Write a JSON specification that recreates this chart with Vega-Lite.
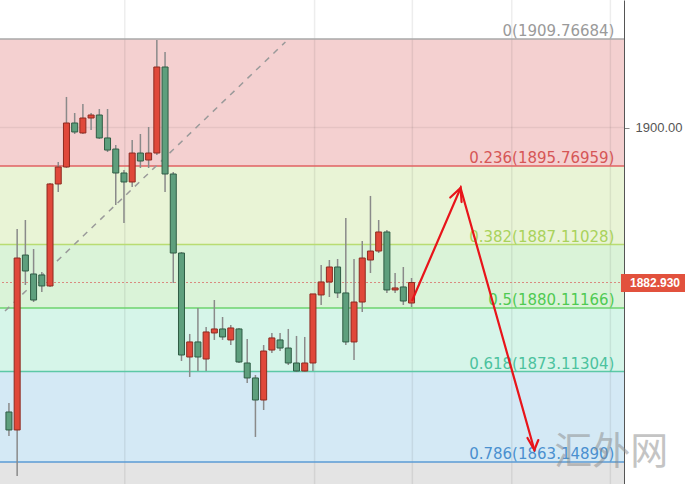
{
  "$schema": "https://vega.github.io/schema/vega-lite/v6.json",
  "width": 624,
  "height": 484,
  "autosize": {"type": "none"},
  "padding": {"left": 0, "top": 0, "right": 61, "bottom": 0},
  "background": "#ffffff",
  "config": {"view": {"stroke": null}},
  "datasets": {
    "zones": [
      {"zone": "0-0.236", "lo": 1895.76959, "hi": 1909.76684},
      {"zone": "0.236-0.382", "lo": 1887.11028, "hi": 1895.76959},
      {"zone": "0.382-0.5", "lo": 1880.11166, "hi": 1887.11028},
      {"zone": "0.5-0.618", "lo": 1873.11304, "hi": 1880.11166},
      {"zone": "0.618-0.786", "lo": 1863.1489, "hi": 1873.11304},
      {"zone": "below", "lo": 1855, "hi": 1863.1489}
    ],
    "levels": [
      {"ratio": "0", "price": 1909.76684, "label": "0(1909.76684)"},
      {"ratio": "0.236", "price": 1895.76959, "label": "0.236(1895.76959)"},
      {"ratio": "0.382", "price": 1887.11028, "label": "0.382(1887.11028)"},
      {"ratio": "0.5", "price": 1880.11166, "label": "0.5(1880.11166)"},
      {"ratio": "0.618", "price": 1873.11304, "label": "0.618(1873.11304)"},
      {"ratio": "0.786", "price": 1863.1489, "label": "0.786(1863.14890)"}
    ],
    "sessions": [{"i": 14.1}, {"i": 37.2}, {"i": 49.1}, {"i": 61.2}, {"i": 73.2}],
    "trend": [
      {"i": -0.48, "price": 1879.79},
      {"i": 33.65, "price": 1909.44}
    ],
    "forecast": [
      {"path": "main", "ord": 0, "i": 49.1, "price": 1881.0},
      {"path": "main", "ord": 1, "i": 54.97, "price": 1893.35},
      {"path": "main", "ord": 2, "i": 63.95, "price": 1864.47},
      {"path": "headUp", "ord": 0, "i": 53.71, "price": 1892.3},
      {"path": "headUp", "ord": 1, "i": 54.97, "price": 1893.35},
      {"path": "headUp", "ord": 2, "i": 55.09, "price": 1891.8},
      {"path": "headDown", "ord": 0, "i": 63.11, "price": 1865.8},
      {"path": "headDown", "ord": 1, "i": 63.95, "price": 1864.47},
      {"path": "headDown", "ord": 2, "i": 64.43, "price": 1865.57}
    ],
    "candles": [
      {"i": 0, "open": 1868.66, "high": 1869.65, "low": 1866.02, "close": 1866.68},
      {"i": 1, "open": 1866.68, "high": 1888.83, "low": 1861.61, "close": 1885.63},
      {"i": 2, "open": 1885.96, "high": 1889.82, "low": 1882.66, "close": 1884.2},
      {"i": 3, "open": 1883.87, "high": 1886.62, "low": 1880.78, "close": 1881.0},
      {"i": 4, "open": 1883.76, "high": 1884.09, "low": 1881.89, "close": 1882.55},
      {"i": 5, "open": 1882.55, "high": 1893.9, "low": 1882.44, "close": 1893.79},
      {"i": 6, "open": 1893.79, "high": 1896.21, "low": 1892.91, "close": 1895.66},
      {"i": 7, "open": 1895.66, "high": 1903.38, "low": 1895.55, "close": 1900.51},
      {"i": 8, "open": 1900.51, "high": 1901.61, "low": 1899.3, "close": 1899.52},
      {"i": 9, "open": 1899.41, "high": 1902.6, "low": 1899.3, "close": 1901.06},
      {"i": 10, "open": 1901.06, "high": 1901.61, "low": 1899.74, "close": 1901.39},
      {"i": 11, "open": 1901.39, "high": 1902.05, "low": 1898.75, "close": 1898.86},
      {"i": 12, "open": 1898.86, "high": 1902.05, "low": 1897.31, "close": 1897.53},
      {"i": 13, "open": 1897.64, "high": 1898.09, "low": 1891.47, "close": 1895.0},
      {"i": 14, "open": 1895.0, "high": 1895.33, "low": 1889.49, "close": 1894.01},
      {"i": 15, "open": 1894.01, "high": 1898.64, "low": 1893.46, "close": 1897.2},
      {"i": 16, "open": 1897.2, "high": 1899.3, "low": 1895.55, "close": 1896.32},
      {"i": 17, "open": 1896.43, "high": 1900.07, "low": 1895.55, "close": 1897.2},
      {"i": 18, "open": 1897.2, "high": 1909.66, "low": 1896.98, "close": 1906.68},
      {"i": 19, "open": 1906.68, "high": 1908.33, "low": 1892.91, "close": 1894.89},
      {"i": 20, "open": 1894.89, "high": 1895.11, "low": 1882.88, "close": 1886.18},
      {"i": 21, "open": 1886.18, "high": 1886.29, "low": 1874.28, "close": 1874.94},
      {"i": 22, "open": 1874.72, "high": 1877.26, "low": 1872.52, "close": 1876.38},
      {"i": 23, "open": 1876.38, "high": 1880.12, "low": 1873.18, "close": 1874.72},
      {"i": 24, "open": 1874.5, "high": 1878.03, "low": 1873.18, "close": 1877.48},
      {"i": 25, "open": 1877.37, "high": 1881.0, "low": 1876.6, "close": 1877.81},
      {"i": 26, "open": 1877.81, "high": 1879.13, "low": 1876.6, "close": 1876.93},
      {"i": 27, "open": 1876.6, "high": 1878.25, "low": 1876.04, "close": 1877.92},
      {"i": 28, "open": 1877.81, "high": 1877.92, "low": 1874.06, "close": 1874.17},
      {"i": 29, "open": 1874.06, "high": 1876.71, "low": 1871.86, "close": 1872.41},
      {"i": 30, "open": 1872.41, "high": 1872.74, "low": 1865.91, "close": 1869.98},
      {"i": 31, "open": 1869.98, "high": 1876.04, "low": 1868.88, "close": 1875.38},
      {"i": 32, "open": 1875.49, "high": 1877.37, "low": 1875.16, "close": 1876.82},
      {"i": 33, "open": 1876.6, "high": 1877.37, "low": 1875.38, "close": 1875.71},
      {"i": 34, "open": 1875.71, "high": 1877.81, "low": 1873.84, "close": 1874.06},
      {"i": 35, "open": 1874.06, "high": 1877.04, "low": 1873.07, "close": 1873.18},
      {"i": 36, "open": 1873.18, "high": 1876.93, "low": 1873.07, "close": 1874.06},
      {"i": 37, "open": 1874.06, "high": 1881.67, "low": 1873.18, "close": 1881.67},
      {"i": 38, "open": 1881.56, "high": 1884.86, "low": 1880.45, "close": 1882.99},
      {"i": 39, "open": 1882.99, "high": 1885.41, "low": 1881.33, "close": 1884.64},
      {"i": 40, "open": 1884.64, "high": 1885.52, "low": 1881.22, "close": 1881.78},
      {"i": 41, "open": 1881.78, "high": 1890.04, "low": 1876.04, "close": 1876.38},
      {"i": 42, "open": 1876.38, "high": 1885.52, "low": 1874.39, "close": 1880.78},
      {"i": 43, "open": 1880.78, "high": 1887.51, "low": 1879.68, "close": 1885.63},
      {"i": 44, "open": 1885.41, "high": 1892.47, "low": 1883.98, "close": 1886.4},
      {"i": 45, "open": 1886.4, "high": 1889.82, "low": 1886.18, "close": 1888.5},
      {"i": 46, "open": 1888.5, "high": 1888.72, "low": 1881.78, "close": 1882.11},
      {"i": 47, "open": 1882.11, "high": 1883.98, "low": 1881.78, "close": 1882.33},
      {"i": 48, "open": 1882.44, "high": 1884.64, "low": 1880.45, "close": 1880.89},
      {"i": 49, "open": 1880.67, "high": 1883.43, "low": 1880.23, "close": 1882.93}
    ],
    "last": [{"i": 74.49, "i2": 84, "price": 1882.93, "lo": 1881.88, "hi": 1883.87, "tag": "1882.930"}],
    "mark": [{"i": 73.3, "price": 1864.1, "text": "汇外网"}]
  },
  "encoding": {
    "x": {"type": "quantitative", "scale": {"domain": [-0.48, 74.25], "nice": false, "zero": false}, "axis": null},
    "y": {"type": "quantitative", "scale": {"domain": [1860.724, 1914.065], "nice": false, "zero": false}}
  },
  "resolve": {"scale": {"color": "independent", "fill": "independent", "stroke": "independent"}},
  "layer": [
    {
      "data": {"name": "zones"},
      "mark": {"type": "rect", "clip": true},
      "encoding": {
        "y": {"field": "lo", "type": "quantitative", "axis": {"orient": "right", "title": null, "values": [1900, 1882.93], "labelExpr": "datum.value == 1900 ? '1900.00' : ''", "grid": false, "domainColor": "#555555", "tickColor": "#888888", "tickSize": 5, "labelPadding": 6, "labelFont": "Liberation Sans", "labelFontSize": 13, "labelColor": "#555555"}},
        "y2": {"field": "hi"},
        "fill": {"field": "zone", "type": "nominal", "legend": null, "scale": {"domain": ["0-0.236", "0.236-0.382", "0.382-0.5", "0.5-0.618", "0.618-0.786", "below"], "range": ["#f4d0d0", "#e9f4d6", "#daf3d8", "#d6f5e9", "#d4e9f5", "#e4e4e4"]}}
      }
    },
    {
      "data": {"name": "sessions"},
      "mark": {"type": "rule", "color": "#000000", "opacity": 0.07, "strokeWidth": 1.5},
      "encoding": {"x": {"field": "i", "type": "quantitative"}, "y": {"value": 0}, "y2": {"value": 484}}
    },
    {
      "data": {"values": [{"price": 1900}]},
      "mark": {"type": "rule", "color": "#000000", "opacity": 0.06, "strokeWidth": 1.5},
      "encoding": {"y": {"field": "price", "type": "quantitative"}}
    },
    {
      "data": {"name": "levels"},
      "mark": {"type": "rule", "strokeWidth": 1.5},
      "encoding": {
        "y": {"field": "price", "type": "quantitative"},
        "stroke": {"field": "ratio", "type": "nominal", "legend": null, "scale": {"domain": ["0", "0.236", "0.382", "0.5", "0.618", "0.786"], "range": ["#a8a8a8", "#e06262", "#b9dc72", "#6cd36e", "#5cc8a6", "#5b9bd5"]}}
      }
    },
    {
      "data": {"values": [{"price": 1882.93}]},
      "mark": {"type": "rule", "color": "#d98a80", "strokeWidth": 1.2, "strokeDash": [2, 2]},
      "encoding": {"y": {"field": "price", "type": "quantitative"}}
    },
    {
      "data": {"name": "trend"},
      "mark": {"type": "line", "color": "#9a9a9a", "strokeWidth": 1.5, "strokeDash": [6, 6], "clip": true},
      "encoding": {"x": {"field": "i", "type": "quantitative"}, "y": {"field": "price", "type": "quantitative"}}
    },
    {
      "data": {"name": "candles"},
      "mark": {"type": "rule", "color": "#8a8a8a", "strokeWidth": 1.5},
      "encoding": {"x": {"field": "i", "type": "quantitative"}, "y": {"field": "low", "type": "quantitative"}, "y2": {"field": "high"}}
    },
    {
      "data": {"name": "candles"},
      "mark": {"type": "bar", "size": 6, "strokeWidth": 1},
      "encoding": {
        "x": {"field": "i", "type": "quantitative"},
        "y": {"field": "open", "type": "quantitative"},
        "y2": {"field": "close"},
        "fill": {"condition": {"test": "datum.close >= datum.open", "value": "#e0483a"}, "value": "#5e9f7d"},
        "stroke": {"condition": {"test": "datum.close >= datum.open", "value": "#8e2a20"}, "value": "#2f5c44"}
      }
    },
    {
      "data": {"name": "levels"},
      "mark": {"type": "text", "align": "right", "baseline": "alphabetic", "dy": -3, "font": "DejaVu Sans", "fontSize": 15},
      "encoding": {
        "x": {"datum": 73.7},
        "y": {"field": "price", "type": "quantitative"},
        "text": {"field": "label"},
        "color": {"field": "ratio", "type": "nominal", "legend": null, "scale": {"domain": ["0", "0.236", "0.382", "0.5", "0.618", "0.786"], "range": ["#9a9a9a", "#d65656", "#a9d25c", "#4fca52", "#4cc29e", "#4a90cf"]}}
      }
    },
    {
      "data": {"name": "forecast"},
      "mark": {"type": "line", "color": "#e8141a", "strokeWidth": 2.2, "strokeCap": "round", "strokeJoin": "miter"},
      "encoding": {
        "x": {"field": "i", "type": "quantitative"},
        "y": {"field": "price", "type": "quantitative"},
        "detail": {"field": "path"},
        "order": {"field": "ord"}
      }
    },
    {
      "data": {"name": "mark"},
      "mark": {"type": "text", "font": "Noto Sans CJK SC", "fontSize": 38, "color": "#8a8a8a", "opacity": 0.5, "align": "center", "baseline": "middle", "clip": false},
      "encoding": {"x": {"field": "i", "type": "quantitative"}, "y": {"field": "price", "type": "quantitative"}, "text": {"field": "text"}}
    },
    {
      "data": {"name": "last"},
      "mark": {"type": "rect", "color": "#e2513d", "clip": false},
      "encoding": {"x": {"field": "i", "type": "quantitative"}, "x2": {"field": "i2"}, "y": {"field": "lo", "type": "quantitative"}, "y2": {"field": "hi"}}
    },
    {
      "data": {"name": "last"},
      "mark": {"type": "text", "color": "#ffffff", "font": "Liberation Sans", "fontWeight": "bold", "fontSize": 12, "align": "left", "baseline": "middle", "dx": 9, "clip": false},
      "encoding": {"x": {"field": "i", "type": "quantitative"}, "y": {"field": "price", "type": "quantitative"}, "text": {"field": "tag"}}
    }
  ]
}
